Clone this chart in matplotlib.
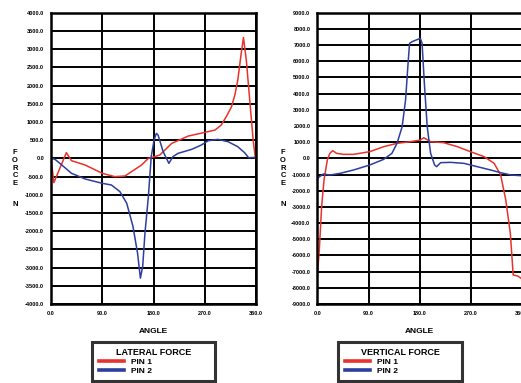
import matplotlib
matplotlib.use('Agg')
import matplotlib.pyplot as plt

plt.rcParams['font.family'] = ['Liberation Sans', 'DejaVu Sans']
plt.rcParams['font.weight'] = 'bold'

# lateral force (left chart)
lat_pin1_angle = [0, 5, 27, 36, 60, 90, 112, 130, 159, 171, 182, 191, 212, 241,
                  270, 288, 299, 308, 317, 323, 328, 334, 338, 343, 349, 355, 359]
lat_pin1_force = [0, -667, 155, -64, -183, -411, -503, -484, -183, 0, 46, 91, 411, 612,
                  713, 777, 914, 1150, 1417, 1750, 2148, 2879, 3318, 2697, 1600, 503, 0]
lat_pin2_angle = [0, 7, 19, 36, 60, 90, 106, 121, 133, 144, 152, 157, 161, 165, 171,
                  176, 181, 185, 188, 197, 207, 214, 223, 247, 264, 276, 293, 311,
                  328, 340, 347, 359]
lat_pin2_force = [0, -27, -183, -411, -567, -686, -731, -914, -1234, -1874, -2605,
                  -3290, -2970, -2057, -1051, 46, 503, 686, 640, 183, -137, 46, 137,
                  247, 366, 484, 521, 457, 320, 155, 18, 27]

# vertical force (right chart)
ver_pin1_angle = [0, 3.5, 7.6, 11.8, 17.6, 22, 27, 34, 46, 63.5, 92, 116.5, 140,
                  163.5, 181, 187, 199, 222, 246, 269, 293, 310.6, 322, 331, 339,
                  344, 352, 358]
ver_pin1_force = [-7313, -5665, -2987, -1339, -103, 309, 474, 309, 247, 247, 412, 721,
                  927, 1030, 1133, 1277, 1030, 968, 721, 412, 103, -309, -1030, -2575,
                  -4635, -7210, -7272, -7416]
ver_pin2_angle = [0, 10.6, 22, 40, 63.5, 92, 116.5, 131, 140, 149, 155, 159, 162,
                  166.5, 176.5, 181, 184, 188, 193, 199, 206, 209.6, 216.5, 234,
                  257.6, 281, 304.7, 322, 340, 357.6]
ver_pin2_force = [-1236, -968, -1030, -927, -721, -412, -62, 309, 927, 1957, 3605,
                  5665, 7107, 7210, 7354, 7416, 7107, 4635, 1957, 309, -412, -515,
                  -268, -247, -309, -515, -721, -886, -1030, -1071]

x_ticks = [0, 90, 180, 270, 360]
lat_ticks = list(range(-4000, 4001, 500))
ver_ticks = list(range(-9000, 9001, 1000))

RED = '#e8322b'
BLUE = '#2d3f9e'

fig = plt.figure(figsize=(5.21, 3.83), dpi=100)


def setup_axes(ax, yticks):
    ax.set_xlim(0, 360)
    ax.set_ylim(yticks[0], yticks[-1])
    ax.set_xticks(x_ticks)
    ax.set_xticklabels(['%.1f' % v for v in x_ticks])
    ax.set_yticks(yticks)
    ax.set_yticklabels(['%.1f' % v for v in yticks])
    ax.tick_params(length=0, labelsize=4, pad=5)
    ax.grid(True, color='black', linewidth=1.4)
    for s in ax.spines.values():
        s.set_linewidth(1.8)
        s.set_color('black')
    ax.set_axisbelow(True)


def legend_box(ax, rect, title):
    leg = ax.legend(title=title, loc='center', bbox_to_anchor=rect,
                    bbox_transform=fig.transFigure, mode='expand',
                    fontsize=6, title_fontsize=6.5, frameon=True, fancybox=False,
                    handlelength=3.0, handletextpad=0.9, labelspacing=0.1,
                    borderpad=0.8, borderaxespad=0)
    leg.get_frame().set_edgecolor('black')
    leg.get_frame().set_linewidth(2.2)
    leg.get_title().set_fontweight('bold')
    for h in leg.get_lines():
        h.set_linewidth(2.6)
    return leg


def force_label(x):
    fig.text(x, 1 - 168 / 383, 'F\nO\nR\nC\nE', ha='center', va='center',
             fontsize=5.5, fontweight='bold', linespacing=1.12)
    fig.text(x, 1 - 205 / 383, 'N', ha='center', va='center',
             fontsize=5.5, fontweight='bold')


# left: lateral force
ax1 = fig.add_axes([51 / 521, 1 - 304 / 383, 205 / 521, 291.3 / 383])
ax1.plot(lat_pin1_angle, lat_pin1_force, color=RED, linewidth=1.1, label='PIN 1')
ax1.plot(lat_pin2_angle, lat_pin2_force, color=BLUE, linewidth=1.1, label='PIN 2')
setup_axes(ax1, lat_ticks)
ax1.set_xlabel('ANGLE', fontsize=6, fontweight='bold', labelpad=9)
legend_box(ax1, (92 / 521, 1 - 382 / 383, 123 / 521, 41 / 383), 'LATERAL FORCE')
force_label(15 / 521)

# right: vertical force
ax2 = fig.add_axes([317.3 / 521, 1 - 304 / 383, 205 / 521, 291.3 / 383])
ax2.plot(ver_pin1_angle, ver_pin1_force, color=RED, linewidth=1.1, label='PIN 1')
ax2.plot(ver_pin2_angle, ver_pin2_force, color=BLUE, linewidth=1.1, label='PIN 2')
setup_axes(ax2, ver_ticks)
ax2.set_xlabel('ANGLE', fontsize=6, fontweight='bold', labelpad=9)
legend_box(ax2, (338 / 521, 1 - 382 / 383, 124 / 521, 41 / 383), 'VERTICAL FORCE')
force_label(283 / 521)

fig.savefig('out.png', dpi=100)
